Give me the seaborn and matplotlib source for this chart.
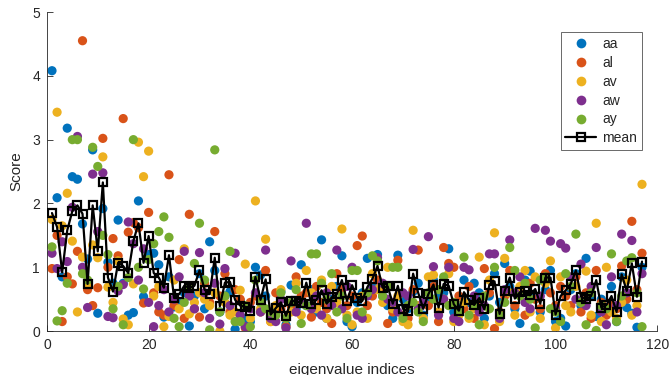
import matplotlib
matplotlib.use("Agg")
import matplotlib.pyplot as plt
from matplotlib.lines import Line2D
import numpy as np
import pandas as pd
import seaborn as sns

series_names = ["aa", "al", "av", "aw", "ay"]
colors = ["#0072BD", "#D95319", "#EDB120", "#7E2F8E", "#77AC30"]

aa = [4.08, 2.09, 0.85, 3.18, 2.42, 2.38, 1.68, 1.13, 2.84, 0.28,
      1.92, 1.08, 0.75, 1.74, 0.75, 0.25, 0.29, 2.04, 0.54, 1.20,
      1.22, 1.04, 0.22, 0.85, 0.38, 0.45, 0.60, 0.08, 0.55, 0.90,
      0.35, 1.40, 0.95, 0.30, 0.55, 0.62, 0.03, 0.48, 0.20, 0.15,
      1.00, 0.88, 0.55, 0.25, 0.30, 0.62, 0.10, 0.72, 0.35, 1.04,
      0.40, 0.65, 0.30, 1.43, 0.20, 0.50, 0.70, 1.18, 0.15, 0.07,
      0.45, 0.60, 1.14, 0.70, 1.20, 0.55, 0.40, 0.20, 1.19, 0.50,
      0.35, 0.62, 0.75, 0.25, 0.45, 0.80, 0.55, 0.60, 1.29, 0.30,
      0.40, 0.80, 0.45, 0.75, 0.60, 0.20, 0.55, 0.90, 0.45, 1.06,
      0.70, 0.35, 0.12, 0.80, 0.94, 0.55, 0.30, 0.65, 0.95, 0.15,
      0.20, 0.08, 0.65, 0.90, 0.40, 1.14, 0.55, 0.23, 0.50, 0.35,
      0.70, 0.15, 0.85, 0.37, 0.28, 0.06, 1.00]

al = [0.98, 1.50, 0.15, 0.85, 0.74, 1.25, 4.55, 0.65, 0.40, 0.68,
      3.02, 1.00, 1.45, 1.18, 3.33, 1.55, 1.70, 1.62, 0.44, 1.86,
      0.60, 0.30, 0.25, 2.45, 0.40, 1.12, 0.20, 1.83, 0.35, 0.22,
      0.75, 0.45, 1.56, 0.55, 0.90, 0.30, 0.65, 0.50, 0.05, 0.45,
      0.55, 0.30, 0.95, 0.15, 0.60, 0.35, 0.07, 0.40, 0.85, 0.55,
      0.60, 0.22, 0.70, 0.45, 0.35, 0.12, 0.90, 0.65, 0.40, 0.55,
      1.34, 1.49, 0.40, 0.55, 0.80, 0.70, 0.12, 0.30, 1.11, 0.25,
      0.20, 0.65, 1.27, 0.45, 0.40, 0.70, 0.15, 1.31, 1.06, 1.00,
      0.55, 0.35, 0.70, 0.20, 0.45, 0.98, 0.60, 0.04, 0.30, 0.55,
      0.95, 0.40, 0.65, 0.25, 0.75, 0.50, 0.35, 0.90, 0.60, 0.40,
      0.70, 0.55, 0.40, 0.85, 0.30, 0.60, 0.20, 0.95, 0.45, 0.25,
      0.40, 0.35, 1.02, 0.50, 1.72, 0.65, 1.22]

av = [1.75, 3.43, 1.65, 2.16, 1.41, 0.30, 1.16, 0.75, 1.35, 1.15,
      2.73, 0.69, 0.45, 1.10, 0.19, 0.10, 0.74, 2.96, 2.42, 2.82,
      0.55, 0.70, 0.07, 0.23, 0.80, 0.35, 1.29, 0.27, 0.45, 0.60,
      0.50, 0.40, 0.60, 0.00, 0.45, 0.25, 0.30, 0.64, 1.05, 0.20,
      2.04, 0.35, 1.44, 0.15, 0.40, 0.65, 0.20, 0.30, 0.75, 0.25,
      0.95, 0.60, 0.35, 0.80, 0.20, 0.70, 0.45, 1.60, 0.25, 0.10,
      0.30, 0.55, 0.20, 0.90, 0.65, 0.45, 1.00, 0.35, 0.55, 0.15,
      0.10, 1.58, 0.40, 0.20, 0.85, 0.88, 0.30, 0.50, 0.90, 0.15,
      0.25, 0.45, 0.20, 0.35, 1.16, 0.10, 0.80, 1.54, 0.15, 1.14,
      0.60, 0.25, 0.70, 0.95, 0.30, 0.85, 0.20, 0.75, 1.10, 0.05,
      0.85, 0.40, 0.30, 0.70, 0.45, 0.94, 0.25, 1.69, 0.15, 1.00,
      0.30, 0.20, 0.45, 0.80, 0.25, 0.40, 2.30]

aw = [1.22, 0.98, 1.40, 1.09, 1.94, 3.05, 1.00, 0.37, 2.46, 1.56,
      2.48, 0.23, 0.21, 0.63, 0.73, 1.71, 1.37, 0.80, 1.29, 0.45,
      0.07, 0.40, 0.65, 0.30, 0.50, 0.85, 1.25, 0.55, 0.35, 1.23,
      0.60, 0.20, 0.75, 0.11, 0.98, 0.40, 1.22, 0.25, 0.07, 0.35,
      0.60, 0.30, 1.27, 0.20, 0.15, 0.50, 0.05, 1.10, 0.30, 0.45,
      1.69, 0.35, 0.55, 0.25, 0.60, 0.40, 1.27, 0.35, 0.70, 1.00,
      0.25, 0.20, 0.55, 0.65, 1.15, 0.75, 0.50, 0.45, 0.30, 0.60,
      0.55, 1.28, 0.35, 0.45, 1.48, 1.01, 0.25, 0.50, 1.00, 0.20,
      0.15, 1.00, 0.96, 0.55, 0.30, 0.40, 1.21, 1.21, 0.20, 0.65,
      1.43, 0.60, 0.85, 0.45, 0.35, 1.61, 0.55, 1.58, 1.41, 0.35,
      1.37, 1.30, 0.85, 0.50, 1.05, 0.40, 0.70, 1.31, 0.30, 0.10,
      0.85, 0.40, 1.52, 0.60, 1.42, 0.30, 0.90]

ay = [1.32, 0.16, 0.32, 0.75, 3.00, 3.00, 0.90, 0.80, 2.88, 2.58,
      1.50, 1.20, 0.35, 0.70, 0.10, 0.84, 3.00, 1.00, 0.66, 1.12,
      1.37, 1.56, 1.79, 1.47, 0.20, 0.07, 0.45, 0.70, 1.06, 1.69,
      0.80, 0.02, 2.84, 0.30, 0.55, 1.25, 0.15, 0.15, 0.40, 0.07,
      0.80, 0.45, 0.35, 0.30, 0.25, 0.60, 0.20, 0.45, 0.65, 0.12,
      0.40, 1.21, 1.21, 0.75, 0.50, 0.90, 0.30, 0.55, 0.20, 0.95,
      0.95, 0.30, 0.60, 1.18, 1.10, 0.55, 0.70, 1.00, 1.00, 0.20,
      0.40, 0.45, 0.30, 0.15, 0.60, 0.50, 0.65, 0.85, 0.40, 0.45,
      0.30, 1.16, 0.25, 0.40, 0.10, 0.55, 0.35, 1.00, 0.25, 0.45,
      1.31, 0.95, 0.55, 0.75, 0.50, 0.05, 0.80, 0.85, 0.35, 0.30,
      0.15, 0.90, 0.70, 1.52, 0.45, 0.10, 0.60, 0.01, 0.40, 0.35,
      1.21, 0.15, 0.55, 1.10, 1.15, 0.60, 0.07]

mean_vals = [1.85, 1.63, 0.92, 1.58, 1.88, 1.97, 1.84, 0.74, 1.97, 1.25,
             2.33, 0.84, 0.62, 1.07, 1.02, 0.91, 1.41, 1.69, 1.07, 1.49,
             0.91, 0.84, 0.68, 1.19, 0.52, 0.58, 0.71, 0.68, 0.71, 0.95,
             0.65, 0.58, 1.15, 0.39, 0.76, 0.77, 0.49, 0.40, 0.38, 0.31,
             0.85, 0.49, 0.81, 0.26, 0.36, 0.45, 0.24, 0.47, 0.47, 0.44,
             0.76, 0.42, 0.49, 0.64, 0.43, 0.53, 0.58, 0.80, 0.47, 0.72,
             0.52, 0.47, 0.69, 0.82, 1.02, 0.68, 0.70, 0.43, 0.71, 0.35,
             0.31, 0.90, 0.60, 0.35, 0.58, 0.73, 0.37, 0.74, 0.71, 0.42,
             0.32, 0.61, 0.49, 0.41, 0.52, 0.34, 0.73, 0.78, 0.27, 0.63,
             0.84, 0.51, 0.61, 0.63, 0.56, 0.66, 0.43, 0.84, 0.84, 0.26,
             0.55, 0.64, 0.74, 0.95, 0.54, 0.50, 0.55, 0.80, 0.37, 0.41,
             0.55, 0.30, 0.89, 0.63, 1.06, 0.54, 1.09]

x_ticks = [0, 20, 40, 60, 80, 100, 120]
y_ticks = [0, 1, 2, 3, 4, 5]

series = [aa, al, av, aw, ay]
idx = np.arange(1, len(mean_vals) + 1)
frames = [pd.DataFrame({"index": idx, "score": vals, "phone": name})
          for name, vals in zip(series_names, series)]
df = pd.concat(frames, ignore_index=True)

sns.set_style("white")
plt.rcParams["font.family"] = ["Liberation Sans", "DejaVu Sans"]
axc = "#262626"

fig = plt.figure(figsize=(6.7, 3.75), dpi=100)
ax = fig.add_axes([0.070, 0.117, 0.911, 0.851])

sns.scatterplot(data=df, x="index", y="score", hue="phone",
                palette=dict(zip(series_names, colors)), s=44,
                linewidth=0, alpha=1.0, legend=False, ax=ax, zorder=2)
ax.plot(idx, mean_vals, color="black", linewidth=1.6, marker="s",
        markersize=6.4, markerfacecolor="none", markeredgecolor="black",
        markeredgewidth=1.6, zorder=3)

ax.set_xlim(0, 120)
ax.set_ylim(0, 5)
ax.set_xticks(x_ticks)
ax.set_yticks(y_ticks)
ax.tick_params(direction="in", length=4, width=0.6, colors=axc,
               labelsize=10, pad=5)
for side in ["top", "right"]:
    ax.spines[side].set_visible(False)
for side in ["left", "bottom"]:
    ax.spines[side].set_color(axc)
    ax.spines[side].set_linewidth(0.6)
ax.tick_params(axis="both", which="both", bottom=True, left=True)

ax.set_xlabel("eigenvalue indices", fontsize=11, color=axc, labelpad=8)
ax.set_ylabel("Score", fontsize=11, color=axc, labelpad=6)

handles = [Line2D([], [], linestyle="none", marker="o", markersize=7,
                  markerfacecolor=c, markeredgecolor="none") for c in colors]
handles.append(Line2D([], [], color="black", linewidth=1.6, marker="s",
                      markersize=6.4, markerfacecolor="none",
                      markeredgecolor="black", markeredgewidth=1.6))
labels = series_names + ["mean"]
leg = ax.legend(handles, labels, loc="upper right",
                bbox_to_anchor=(0.975, 0.937), borderaxespad=0,
                fontsize=10, frameon=True, fancybox=False,
                labelspacing=0.35, handlelength=2.2, handletextpad=0.45,
                borderpad=0.35)
leg.get_frame().set_edgecolor(axc)
leg.get_frame().set_linewidth(0.6)
for t in leg.get_texts():
    t.set_color(axc)

fig.savefig("out.png", dpi=100)
